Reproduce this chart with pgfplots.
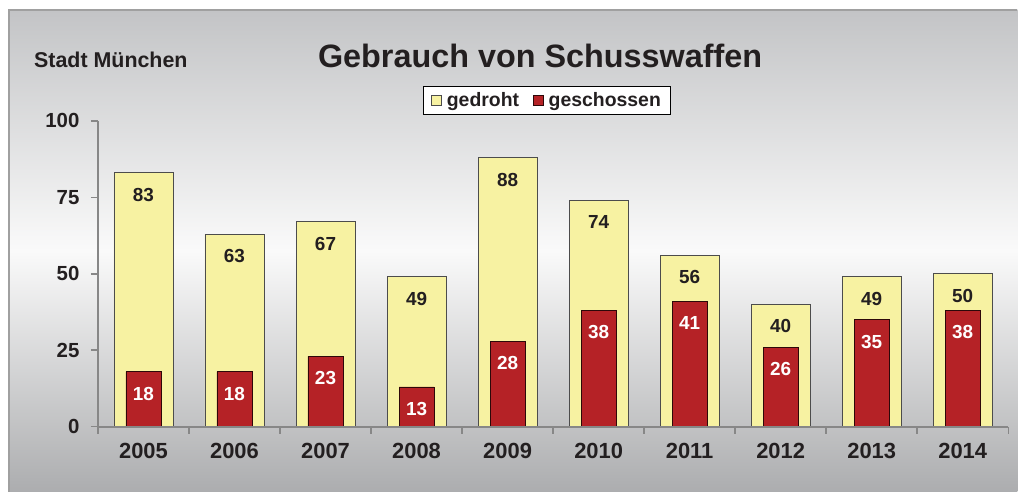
\documentclass[border=0pt]{standalone}
\usepackage{pgfplots}
\pgfplotsset{compat=1.18}
\usepackage{fontspec}
\setmainfont{Liberation Sans}
\definecolor{gelb}{RGB}{247,242,162}
\definecolor{rot}{RGB}{181,34,38}
\definecolor{axisgray}{RGB}{135,135,135}
\definecolor{bgtop}{RGB}{195,196,198}
\definecolor{bgmid}{RGB}{250,250,250}
\definecolor{bgbot}{RGB}{172,173,175}
\definecolor{txt}{RGB}{35,31,32}
\definecolor{framegray}{RGB}{160,160,160}
\begin{document}
\begin{tikzpicture}
\fill[white] (0,0) rectangle (1018bp,-492bp);
\shade[top color=bgtop, bottom color=bgbot, middle color=bgmid] (9bp,-10bp) rectangle (1018bp,-492bp);
\draw[framegray, line width=1.5bp] (9bp,-492bp) -- (9bp,-10bp) -- (1018bp,-10bp);
\node[font=\bfseries\fontsize{21.5}{24}\selectfont, text=txt, anchor=west, inner sep=0pt] at (34bp,-60bp) {Stadt München};
\node[font=\bfseries\fontsize{32.5}{38}\selectfont, text=txt] at (540.5bp,-56bp) {Gebrauch von Schusswaffen};
\begin{axis}[
  at={(98bp,-427bp)}, anchor=south west,
  scale only axis, width=911bp, height=306bp,
  xmin=-0.5, xmax=9.5, ymin=0, ymax=100,
  axis x line=bottom, axis y line=left,
  axis line style={-, draw=axisgray, line width=1.8bp},
  axis on top,
  tick align=outside,
  major tick length=7bp,
  tick style={draw=axisgray, line width=1.5bp},
  ytick={0,25,50,75,100},
  xtick={-0.5,0.5,...,9.5},
  xticklabels={2005,2006,2007,2008,2009,2010,2011,2012,2013,2014},
  x tick label as interval,
  /pgf/number format/assume math mode=true,
  yticklabel style={font=\bfseries\fontsize{20.5}{20}\selectfont, text=txt, xshift=-8bp},
  xticklabel style={font=\bfseries\fontsize{22}{22}\selectfont, text=txt, yshift=-6bp},
  legend style={at={(0.4934,1.067)}, anchor=center, draw=black, line width=1bp, fill=white,
    font=\bfseries\fontsize{19.5}{19.5}\selectfont, text=txt,
    legend columns=2, /tikz/every even column/.append style={column sep=12bp},
    inner xsep=8bp, inner ysep=4bp},
  legend image code/.code={\draw[#1, line width=0.6bp] (0bp,-5bp) rectangle (10bp,5bp);},
  legend cell align=left,
]
\addplot[ybar, bar width=0.648, bar shift=0pt, fill=gelb, draw=black!70, line width=0.8bp,
  nodes near coords,
  every node near coord/.append style={anchor=center, yshift=-22bp, font=\bfseries\fontsize{19}{19}\selectfont, text=txt}]
  coordinates {(0,83) (1,63) (2,67) (3,49) (4,88) (5,74) (6,56) (7,40) (8,49) (9,50)};
\addlegendentry{\hspace{3bp}gedroht}
\addplot[ybar, bar width=0.385, bar shift=0pt, fill=rot, draw=black!75!rot, line width=0.8bp,
  nodes near coords,
  every node near coord/.append style={anchor=center, yshift=-22bp, font=\bfseries\fontsize{19}{19}\selectfont, text=white}]
  coordinates {(0,18) (1,18) (2,23) (3,13) (4,28) (5,38) (6,41) (7,26) (8,35) (9,38)};
\addlegendentry{\hspace{3bp}geschossen}
\end{axis}
\end{tikzpicture}
\end{document}
